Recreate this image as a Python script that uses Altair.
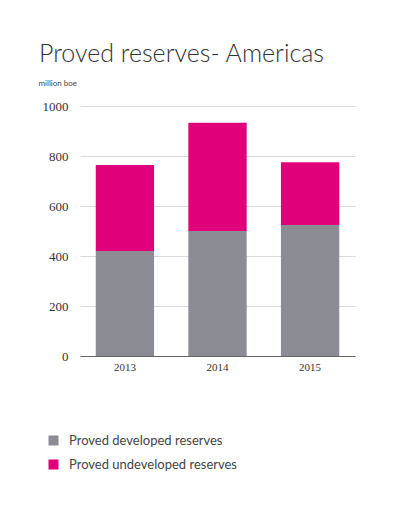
import altair as alt
import pandas as pd

years = ["2013", "2014", "2015"]
developed = [420, 500, 524]
undeveloped = [344, 433, 251]
series = ["Proved developed reserves", "Proved undeveloped reserves"]
colors = ["#8C8D94", "#E0007A"]

rows = []
for i, y in enumerate(years):
    rows.append({"year": y, "series": series[0], "value": developed[i], "ord": 0})
    rows.append({"year": y, "series": series[1], "value": undeveloped[i], "ord": 1})
df = pd.DataFrame(rows)

chart = alt.Chart(df).mark_bar().encode(
    x=alt.X("year:N", title=None,
            scale=alt.Scale(paddingInner=0.37, paddingOuter=0.17),
            axis=alt.Axis(labelAngle=0, ticks=False, domainColor="#666666",
                          labelFont="Liberation Serif", labelFontSize=11,
                          labelColor="#333333", labelPadding=5)),
    y=alt.Y("value:Q", stack="zero",
            scale=alt.Scale(domain=[0, 1000]),
            axis=alt.Axis(values=[0, 200, 400, 600, 800, 1000], format="d",
                          domain=False, ticks=False,
                          gridColor="#d9d9d9", labelFont="Liberation Serif",
                          labelFontSize=13, labelColor="#333333", labelPadding=12,
                          title="million boe", titleAngle=0, titleX=-42, titleY=-19,
                          titleAlign="left", titleFont="Lato", titleFontSize=8,
                          titleFontWeight="normal", titleColor="#444444")),
    color=alt.Color("series:N", scale=alt.Scale(domain=series, range=colors),
                    legend=alt.Legend(title=None, orient="none", legendX=-33, legendY=328,
                                      symbolType="square", symbolSize=100,
                                      symbolStrokeWidth=0, labelLimit=400,
                                      labelOffset=9,
                                      labelFont="Lato", labelFontSize=13,
                                      labelColor="#444444", rowPadding=10)),
    order=alt.Order("ord:Q"),
).properties(
    width=275,
    height=250,
    background="white",
    title=alt.TitleParams("Proved reserves- Americas", anchor="start", frame="group",
                          dx=-41, offset=12, font="Lato", fontSize=25,
                          fontWeight=300, color="#333333"),
    padding={"left": 72, "top": 98, "right": 30, "bottom": 140},
    autosize=alt.AutoSizeParams(type="none"),
).configure_view(stroke=None, strokeWidth=0)

chart.save("out.html", embed_options={"renderer": "svg", "actions": False})
